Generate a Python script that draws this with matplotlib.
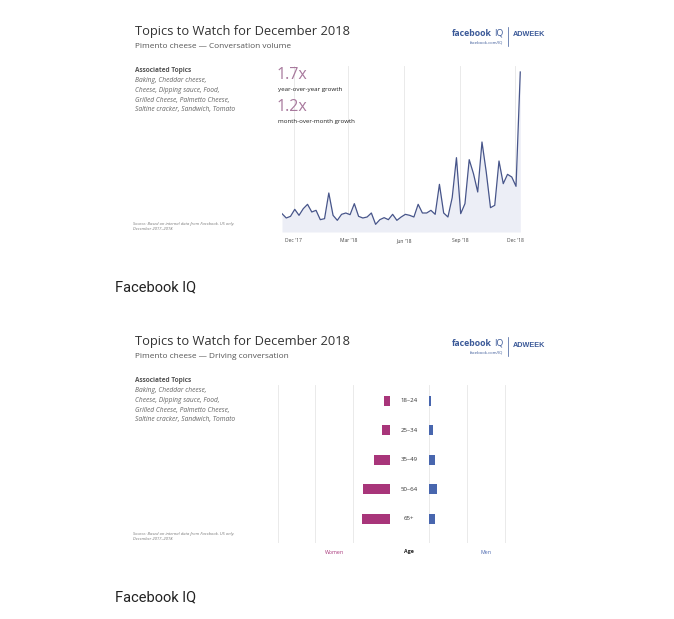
import matplotlib.pyplot as plt
import matplotlib.transforms as mtransforms
import pandas as pd

# weekly conversation volume (relative)
start_week = "2017-11-12"
volume = [55, 42, 47, 68, 50, 70, 83, 60, 65, 37, 40, 117, 50, 35, 53, 57, 52, 85, 47, 42,
          45, 57, 23, 37, 43, 37, 53, 35, 45, 53, 50, 45, 83, 57, 57, 65, 53, 143, 57, 45,
          103, 223, 55, 85, 217, 175, 120, 270, 180, 73, 80, 213, 145, 173, 165, 137, 480]
tick_dates = ["2017-12-01", "2018-03-01", "2018-06-01", "2018-09-01", "2018-12-01"]
tick_labels = ["Dec '17", "Mar '18", "Jun '18", "Sep '18", "Dec '18"]

# age split of who drives the conversation
ages = ["18–24", "25–34", "35–49", "50–64", "65+"]
women = [1.5, 2.1, 4.2, 7.1, 7.4]
men = [0.6, 1.15, 1.6, 2.1, 1.6]

topics = ["Baking, Cheddar cheese,", "Cheese, Dipping sauce, Food,",
          "Grilled Cheese, Palmetto Cheese,", "Saltine cracker, Sandwich, Tomato"]

W, H = 674, 619
fig = plt.figure(figsize=(W / 100, H / 100), dpi=100)
fig.patch.set_facecolor("white")

FONT = "Open Sans"
NAVY = "#47558a"
PINK = "#a8799d"
WOMEN_C = "#a8357a"
MEN_C = "#4866ae"
FB_BLUE = "#3b5998"


def fx(x):
    return x / W


def fy(y):
    return 1 - y / H


def px_axes(left, top, right, bottom):
    return fig.add_axes([fx(left), fy(bottom), (right - left) / W, (bottom - top) / H])


def card(dy, subtitle):
    # title, subtitle, logo, topics list and source note shared by both cards
    fig.text(fx(135), fy(32 + dy), "Topics to Watch for December 2018", family=FONT,
             fontsize=9.3, color="#333333", va="center")
    fig.text(fx(135), fy(47 + dy), subtitle, family=FONT, fontsize=5.95, color="#555555", va="center")
    fig.text(fx(492), fy(33 + dy), "facebook", family=FONT, fontsize=6.3, fontweight="bold",
             color=FB_BLUE, va="center", ha="right")
    fig.text(fx(494), fy(33 + dy), "IQ", family=FONT, fontsize=6.3, color=FB_BLUE, va="center")
    fig.text(fx(503), fy(42.5 + dy), "facebook.com/IQ", family=FONT, fontsize=3, color=FB_BLUE,
             va="center", ha="right")
    fig.add_artist(plt.Line2D([fx(508), fx(508)], [fy(27 + dy), fy(46 + dy)], color=FB_BLUE, lw=0.5))
    fig.text(fx(513), fy(35 + dy), "ADWEEK",
             family=["DejaVu Sans Condensed", "Liberation Sans Narrow", "Liberation Sans"],
             fontsize=5.2, fontweight="bold", fontstretch="condensed", color=FB_BLUE, va="center")
    fig.text(fx(135), fy(71 + dy), "Associated Topics", family=FONT, fontsize=4.7,
             fontweight="bold", color="#555555", va="center")
    for i, line in enumerate(topics):
        fig.text(fx(135), fy(80.5 + 9.8 * i + dy), line, family=FONT, fontsize=4.75,
                 style="italic", color="#666666", va="center")
    fig.text(fx(133), fy(224 + dy), "Source: Based on internal data from Facebook, US only.",
             family=FONT, fontsize=3.0, style="italic", color="#777777", va="center")
    fig.text(fx(133), fy(229.5 + dy), "December 2017–2018.", family=FONT, fontsize=3.0,
             style="italic", color="#777777", va="center")


# ---------- card 1: conversation volume ----------
card(0, "Pimento cheese — Conversation volume")

dates = pd.date_range(start_week, periods=len(volume), freq="7D")
ticks = pd.to_datetime(tick_dates)
ax = px_axes(282, 66, 530, 232)
ax.fill_between(dates, volume, 0, color="#eceef6", lw=0)
ax.plot(dates, volume, color=NAVY, lw=0.9)
ax.set_xlim(dates[0], dates[-1] + pd.Timedelta(days=16))
ax.set_ylim(0, 498)
ax.set_xticks(ticks)
ax.set_xticklabels([])
ax.tick_params(length=0)
ax.set_yticks([])
ax.grid(axis="x", color="#e6e6e6", lw=0.6)
ax.set_axisbelow(True)
for s in ax.spines.values():
    s.set_visible(False)
# tick labels placed on a common baseline (Open Sans "J" dips below it)
ttr = mtransforms.blended_transform_factory(ax.transData, fig.transFigure)
for t, lab in zip(ticks, tick_labels):
    ax.text(t, fy(242), lab, transform=ttr, family=FONT, fontsize=3.6, color="#444444",
            ha="center", va="baseline")

fig.text(fx(277), fy(75), "1.7x", family=FONT, fontsize=11.5, color=PINK, va="center")
fig.text(fx(278), fy(89), "year-over-year growth", family=FONT, fontsize=4.5, color="#222222", va="center")
fig.text(fx(277), fy(107), "1.2x", family=FONT, fontsize=11.5, color=PINK, va="center")
fig.text(fx(278), fy(121), "month-over-month growth", family=FONT, fontsize=4.4, color="#222222", va="center")

fig.text(fx(115), fy(287), "Facebook IQ", family="Roboto", fontsize=10.5, color="#222222", va="center")

# ---------- card 2: driving conversation ----------
card(310, "Pimento cheese — Driving conversation")

rows = list(range(len(ages)))
axw = px_axes(278, 385, 390, 543)
axm = px_axes(429, 385, 543, 543)
for a, vals, col in [(axw, women, WOMEN_C), (axm, men, MEN_C)]:
    a.barh(rows, vals, height=0.34, color=col)
    a.set_ylim(4.82, -0.54)
    a.set_xticks([0, 10, 20, 30])
    a.grid(axis="x", color="#e6e6e6", lw=0.6)
    a.set_axisbelow(True)
    a.set_yticks([])
    a.tick_params(length=0, labelbottom=False)
    for s in a.spines.values():
        s.set_visible(False)
axw.set_xlim(30, 0)
axm.set_xlim(0, 30)

tr = mtransforms.blended_transform_factory(fig.transFigure, axw.transData)
for r, lab in zip(rows, ages):
    axw.text(fx(409), r, lab, transform=tr, family=FONT, fontsize=4.4, color="#333333",
             ha="center", va="center")

fig.text(fx(334), fy(552), "Women", family=FONT, fontsize=3.8, color=WOMEN_C, ha="center", va="center")
fig.text(fx(409), fy(552), "Age", family=FONT, fontsize=3.8, fontweight="bold", color="#222222",
         ha="center", va="center")
fig.text(fx(486), fy(552), "Men", family=FONT, fontsize=3.8, color=MEN_C, ha="center", va="center")

fig.text(fx(115), fy(597), "Facebook IQ", family="Roboto", fontsize=10.5, color="#222222", va="center")

fig.savefig("out.png", dpi=100, facecolor="white")
